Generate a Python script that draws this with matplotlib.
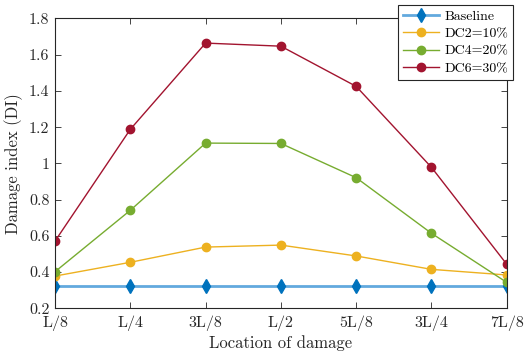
import numpy as np
import matplotlib.pyplot as plt

# data
locations = ["L/8", "L/4", "3L/8", "L/2", "5L/8", "3L/4", "7L/8"]
baseline = [0.325, 0.325, 0.325, 0.325, 0.325, 0.325, 0.325]
dc2 = [0.378, 0.454, 0.538, 0.549, 0.489, 0.415, 0.384]
dc4 = [0.402, 0.741, 1.112, 1.110, 0.921, 0.614, 0.343]
dc6 = [0.571, 1.188, 1.664, 1.647, 1.425, 0.978, 0.443]
y_ticks = [0.2, 0.4, 0.6, 0.8, 1.0, 1.2, 1.4, 1.6, 1.8]
y_tick_labels = ["0.2", "0.4", "0.6", "0.8", "1", "1.2", "1.4", "1.6", "1.8"]

plt.rcParams['font.family'] = 'serif'
plt.rcParams['font.serif'] = ['cmr10', 'DejaVu Serif']
plt.rcParams['axes.unicode_minus'] = False

fig = plt.figure(figsize=(5.29, 3.55), dpi=100)
ax = fig.add_axes([0.104, 0.1315, 0.854, 0.8165])

x = np.arange(len(locations))
ax.plot(x, baseline, color='#62a9de', lw=2, marker='d', ms=7,
        mfc='#0072BD', mec='#0072BD', label='Baseline')
ax.plot(x, dc2, color='#EDB120', lw=1, marker='o', ms=6,
        mfc='#EDB120', mec='#EDB120', label='DC2=10%')
ax.plot(x, dc4, color='#77AC30', lw=1, marker='o', ms=6,
        mfc='#77AC30', mec='#77AC30', label='DC4=20%')
ax.plot(x, dc6, color='#A2142F', lw=1, marker='o', ms=6,
        mfc='#A2142F', mec='#A2142F', label='DC6=30%')

ax.set_xlim(0, len(locations) - 1)
ax.set_ylim(0.2, 1.8)
ax.set_xticks(x)
ax.set_xticklabels(locations)
ax.set_yticks(y_ticks)
ax.set_yticklabels(y_tick_labels)
ax.tick_params(direction='in', top=True, right=True, labelsize=11.5,
               colors='#262626', length=4, width=0.6)
ax.tick_params(axis='x', pad=5)
ax.tick_params(axis='y', pad=4)
for s in ax.spines.values():
    s.set_color('#262626')
    s.set_linewidth(0.8)

ax.set_xlabel("Location of damage", fontsize=12, color='#262626', labelpad=3)
ax.set_ylabel("Damage index (DI)", fontsize=12, color='#262626', labelpad=4)

leg = ax.legend(loc='upper right', bbox_to_anchor=(513 / 529, 1 - 5 / 355),
                bbox_transform=fig.transFigure, borderaxespad=0,
                fontsize=10, fancybox=False, framealpha=1,
                edgecolor='#262626', handlelength=2.6, handletextpad=0.4,
                labelspacing=0.35, borderpad=0.35)
leg.get_frame().set_linewidth(0.8)

fig.savefig("out.png", dpi=100)
